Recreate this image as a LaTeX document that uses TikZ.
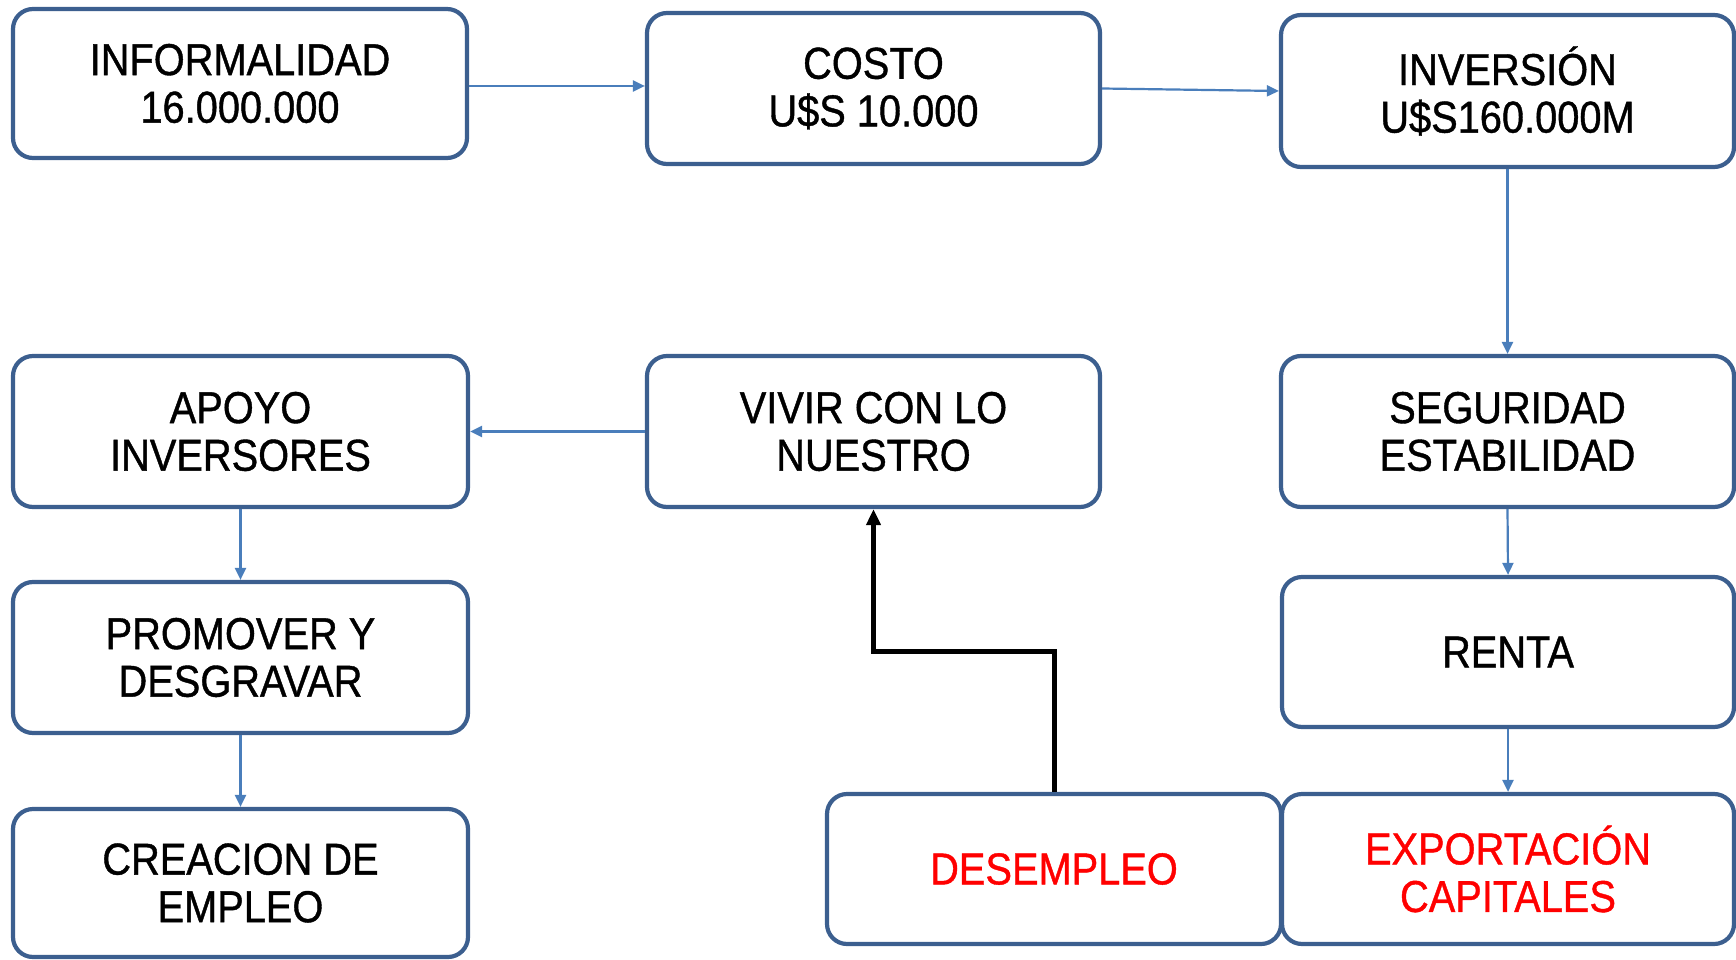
\documentclass[tikz,border=0pt]{standalone}
\usepackage{fontspec}
\setmainfont[FakeStretch=0.89,FakeBold=0.9]{Liberation Sans}
\usetikzlibrary{arrows.meta}
\definecolor{boxline}{RGB}{60,95,143}
\definecolor{arrowblue}{RGB}{74,126,187}
\definecolor{alertred}{RGB}{255,0,0}
\tikzset{
  box/.style={draw=boxline, line width=4.2pt, rounded corners=20pt, fill=white,
    minimum width=453pt, minimum height=150pt, align=center, inner sep=0pt,
    font=\fontsize{44.7}{47.6}\selectfont, text=black},
  redtext/.style={text=alertred},
  flow/.style={draw=arrowblue, line width=2.2pt, -{Triangle[length=12pt,width=11pt]}},
  blackflow/.style={draw=black, line width=5pt, -{Triangle[length=16pt,width=14pt]}}
}
\begin{document}
\begin{tikzpicture}[x=1pt,y=-1pt]
\useasboundingbox (0,0) rectangle (1736,960);
\node[box, minimum width=454pt, minimum height=149pt] (n1) at (240,83.5) {INFORMALIDAD\\16.000.000};
\node[box, minimum height=151pt] (n2) at (873.5,88.5) {COSTO\\U\$S 10.000};
\node[box, minimum height=152pt] (n3) at (1507.5,91) {INVERSIÓN\\U\$S160.000M};
\node[box, minimum width=455pt, minimum height=151pt] (n4) at (240.5,431.5) {APOYO\\INVERSORES};
\node[box, minimum height=151pt] (n5) at (873.5,431.5) {VIVIR CON LO\\NUESTRO};
\node[box, minimum height=151pt] (n6) at (1507.5,431.5) {SEGURIDAD\\ESTABILIDAD};
\node[box, minimum width=455pt, minimum height=151pt] (n7) at (240.5,657.5) {PROMOVER Y\\DESGRAVAR};
\node[box, minimum width=452pt] (n8) at (1508,652) {RENTA};
\node[box, minimum width=455pt, minimum height=148pt] (n9) at (240.5,883) {CREACION DE\\EMPLEO};
\node[box, minimum width=454pt, redtext] (n10) at (1054,869) {DESEMPLEO};
\node[box, minimum width=452pt, redtext] (n11) at (1508,869) {EXPORTACIÓN\\CAPITALES};

\draw[flow] ([yshift=-2.5pt]n1.east) -- ([yshift=-2.5pt]n1.east -| n2.west);
\draw[flow] (n2.east) -- (n3.west);
\draw[flow] (n3.south) -- (n6.north);
\draw[flow] (n6.south) -- (n8.north);
\draw[flow] (n8.south) -- (n11.north);
\draw[flow] (n5.west) -- (n4.east);
\draw[flow] (n4.south) -- (n7.north);
\draw[flow] (n7.south) -- (n9.north);
\coordinate (elbow) at (873.5,651);
\draw[blackflow] (n10.north) |- (elbow) -- (n5.south);
\end{tikzpicture}
\end{document}
